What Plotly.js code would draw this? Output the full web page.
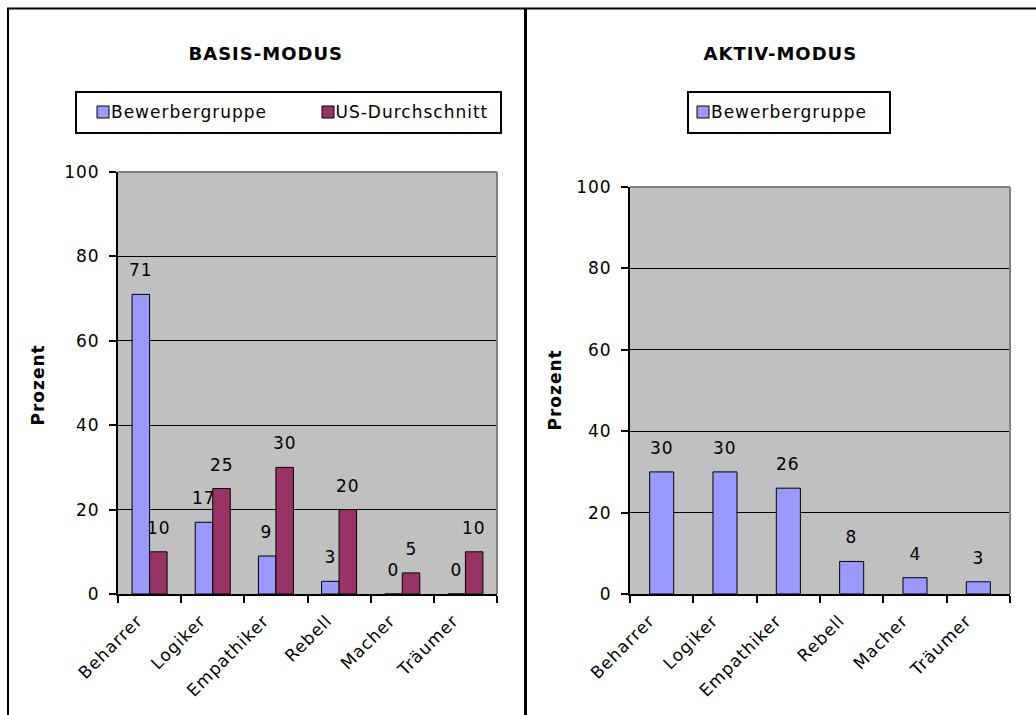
<!DOCTYPE html>
<html><head><meta charset="utf-8">
<script src="https://cdn.plot.ly/plotly-3.0.1.min.js"></script>
<style>
html,body{margin:0;padding:0;background:#fff}
#chart{width:1036px;height:715px}
.main-svg text{letter-spacing:1px}
</style>
</head><body><div id="chart"></div>
<script>
// ---- data ----
const categories = ['Beharrer','Logiker','Empathiker','Rebell','Macher','Träumer'];
const seriesNames = ['Bewerbergruppe','US-Durchschnitt'];
const basisBewerber = [71,17,9,3,0,0];
const basisUS = [10,25,30,20,5,10];
const aktivBewerber = [30,30,26,8,4,3];
const yTicks = [0,20,40,60,80,100];
const chartTitles = ['BASIS-MODUS','AKTIV-MODUS'];
const yTitle = 'Prozent';

// ---- layout helpers ----
const W = 1036, H = 715;
const px = x => x / W;
const py = y => 1 - y / H;
const FONT = 'DejaVu Sans, Verdana, sans-serif';
const BLUE = '#9999FF', RED = '#993366';

const traces = [
  {type:'bar', name:seriesNames[0], x:categories, y:basisBewerber, xaxis:'x', yaxis:'y',
   marker:{color:BLUE, line:{color:'#000', width:1}}, showlegend:false, hoverinfo:'x+y+name'},
  {type:'bar', name:seriesNames[1], x:categories, y:basisUS, xaxis:'x', yaxis:'y',
   marker:{color:RED, line:{color:'#000', width:1}}, showlegend:false, hoverinfo:'x+y+name'},
  {type:'bar', name:seriesNames[0], x:categories, y:aktivBewerber, xaxis:'x2', yaxis:'y2', width:0.38,
   marker:{color:BLUE, line:{color:'#000', width:1}}, showlegend:false, hoverinfo:'x+y+name'}
];

function yAxis(domain){
  return {domain:domain, range:[0,100], tickvals:yTicks, ticktext:yTicks.map(String),
    ticks:'outside', ticklen:7, tickwidth:2, tickcolor:'#000',
    showline:true, linecolor:'#000', linewidth:2,
    showgrid:true, gridcolor:'#000', gridwidth:1, zeroline:false,
    tickfont:{family:FONT, size:17, color:'#000'}, ticklabelstandoff:6, fixedrange:true};
}
function xAxis(domain, anchor){
  return {domain:domain, anchor:anchor, type:'category', showline:true, linecolor:'#000', linewidth:2,
    ticks:'outside', tickson:'boundaries', ticklen:7, tickwidth:2, tickcolor:'#000',
    tickangle:-45, showgrid:false, zeroline:false, ticklabelstandoff:8, ticklabelshift:-12,
    tickfont:{family:FONT, size:17, color:'#000'}, fixedrange:true};
}

const annotations = [];
const labelFont = {family:FONT, size:17, color:'#000'};
// value labels (through the axes)
categories.forEach((c,i)=>{
  annotations.push({xref:'x', yref:'y', x:c, y:basisBewerber[i], text:String(basisBewerber[i]),
    showarrow:false, xshift:-9, xanchor:'center', yanchor:'bottom', yshift:12, font:labelFont});
  annotations.push({xref:'x', yref:'y', x:c, y:basisUS[i], text:String(basisUS[i]),
    showarrow:false, xshift:9, xanchor:'center', yanchor:'bottom', yshift:12, font:labelFont});
  annotations.push({xref:'x2', yref:'y2', x:c, y:aktivBewerber[i], text:String(aktivBewerber[i]),
    showarrow:false, xanchor:'center', yanchor:'bottom', yshift:12, font:labelFont});
});
// titles
const titleFont = {family:FONT, size:18, color:'#000'};
const paperAnn = (x,y,text,font,extra) => Object.assign({xref:'paper', yref:'paper', x:px(x), y:py(y),
  xanchor:'center', yanchor:'middle', text:text, showarrow:false, font:font}, extra||{});
annotations.push(paperAnn(265,54,'<b>'+chartTitles[0]+'</b>',titleFont));
annotations.push(paperAnn(780,54,'<b>'+chartTitles[1]+'</b>',titleFont));
// y axis titles
const axFont = {family:FONT, size:17, color:'#000'};
annotations.push(paperAnn(38,385,'<b>'+yTitle+'</b>',axFont,{textangle:-90}));
annotations.push(paperAnn(555,390,'<b>'+yTitle+'</b>',axFont,{textangle:-90}));
// legend texts
const legFont = {family:FONT, size:17, color:'#000'};
annotations.push(paperAnn(116,112,seriesNames[0],legFont,{xanchor:'left'}));
annotations.push(paperAnn(341,112,seriesNames[1],legFont,{xanchor:'left'}));
annotations.push(paperAnn(716,112,seriesNames[0],legFont,{xanchor:'left'}));

const rectPx = (x0,y0,x1,y1,fill,lw) => ({type:'rect', xref:'paper', yref:'paper',
  x0:px(x0), x1:px(x1), y0:py(y0), y1:py(y1), fillcolor:fill, line:{color:'#000', width:lw}, layer:'below'});
const linePx = (x0,y0,x1,y1,lw,col) => ({type:'line', xref:'paper', yref:'paper',
  x0:px(x0), x1:px(x1), y0:py(y0), y1:py(y1), line:{color:col||'#000', width:lw}, layer:'above'});

const shapes = [
  // frame
  linePx(7,8.5,1036,8.5,2), linePx(8,8,8,715,2), linePx(525.5,8,525.5,715,3),
  // gray plot borders (top/right)
  {type:'line', xref:'x domain', yref:'y domain', x0:0, x1:1, y0:1, y1:1, line:{color:'#808080', width:2}, layer:'above'},
  {type:'line', xref:'x domain', yref:'y domain', x0:1, x1:1, y0:0, y1:1, line:{color:'#808080', width:2}, layer:'above'},
  {type:'line', xref:'x2 domain', yref:'y2 domain', x0:0, x1:1, y0:1, y1:1, line:{color:'#808080', width:2}, layer:'above'},
  {type:'line', xref:'x2 domain', yref:'y2 domain', x0:1, x1:1, y0:0, y1:1, line:{color:'#808080', width:2}, layer:'above'},
  // legends
  rectPx(76,92,501,133,'#fff',2), rectPx(97,106,109,118,BLUE,1), rectPx(322,106,334,118,RED,1),
  rectPx(688,92,890,133,'#fff',2), rectPx(697,106,709,118,BLUE,1)
];

const layout = {
  width:W, height:H, margin:{l:0,r:0,t:0,b:0},
  paper_bgcolor:'#fff', plot_bgcolor:'#C0C0C0',
  barmode:'group', bargap:0.446, bargroupgap:0,
  showlegend:false,
  xaxis: xAxis([px(118), px(497)], 'y'),
  yaxis: Object.assign(yAxis([py(594), py(172)]), {anchor:'x'}),
  xaxis2: xAxis([px(630), px(1010)], 'y2'),
  yaxis2: Object.assign(yAxis([py(594), py(187)]), {anchor:'x2'}),
  annotations: annotations, shapes: shapes,
  font:{family:FONT, color:'#000'}
};

Plotly.newPlot('chart', traces, layout, {displayModeBar:false, staticPlot:true});
</script>
</body></html>
